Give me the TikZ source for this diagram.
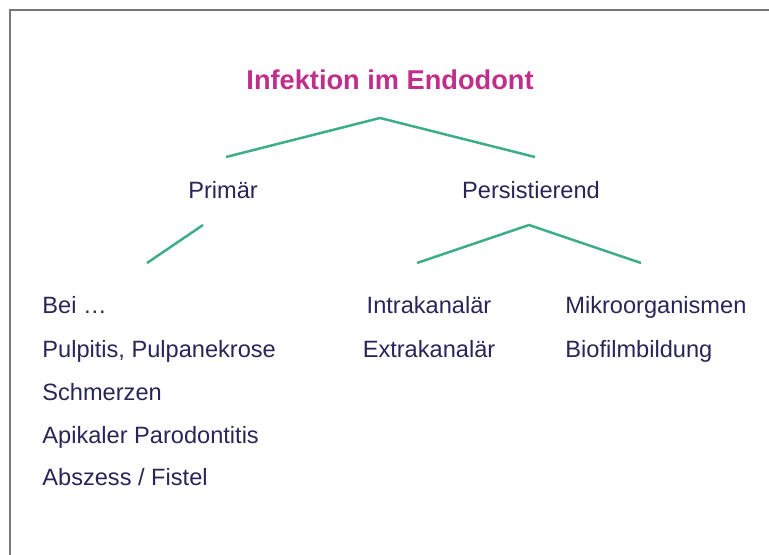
\documentclass[tikz,border=0pt]{standalone}
\usepackage{fontspec}
\setmainfont{Liberation Sans}
\usetikzlibrary{positioning}
\definecolor{titelrot}{RGB}{192,46,138}
\definecolor{tinte}{RGB}{40,38,88}
\definecolor{astgruen}{RGB}{61,174,134}
\definecolor{rahmengrau}{RGB}{120,120,120}

\begin{document}
\begin{tikzpicture}[x=0.5pt,y=-0.5pt,
        titel/.style={font=\fontsize{13.6}{16}\selectfont\bfseries,text=titelrot,inner sep=0pt,anchor=base},
        zweig/.style={font=\fontsize{11.8}{14}\selectfont,text=tinte,inner sep=0pt,anchor=base},
        eintrag/.style={zweig,anchor=base west},
        ast/.style={draw=astgruen,line width=1.25pt},
        rahmen/.style={draw=rahmengrau,line width=1pt}]%
        \useasboundingbox (0,0) rectangle (769,555); %%
        \draw[rahmen] (10,555)--(10,10)--(769,10); %%
        % Titel und erste Ebene
        \node[titel] (titel) at (390,90) {Infektion im Endodont}; %%
        \node[zweig] (prim) at (223,199) {Primär}; %%
        \node[zweig] (pers) at (531,199) {Persistierend}; %%
        % Primaer
        \node[eintrag] (bei) at (42,314) {Bei …}; %%
        \node[eintrag] (pulp) at (42,357) {Pulpitis, Pulpanekrose}; %%
        \node[eintrag] (schm) at (42,400) {Schmerzen}; %%
        \node[eintrag] (apik) at (42,443) {Apikaler Parodontitis}; %%
        \node[eintrag] (absz) at (42,485) {Abszess / Fistel}; %%
        % Persistierend
        \node[zweig] (intra) at (429,313) {Intrakanalär}; %%
        \node[zweig] (extra) at (429,357) {Extrakanalär}; %%
        \node[eintrag] (mikro) at (565,313) {Mikroorganismen}; %%
        \node[eintrag] (bio) at (565,357) {Biofilmbildung}; %%
        % Aeste
        \coordinate (t0) at (380,118); %%
        \coordinate (t1) at (226,157); %%
        \coordinate (t2) at (535,157); %%
        \coordinate (p0) at (203,225); %%
        \coordinate (p1) at (147,263); %%
        \coordinate (s0) at (529,225); %%
        \coordinate (s1) at (417,263); %%
        \coordinate (s2) at (641,263); %%
        \draw[ast] (t1)--(t0)--(t2); %%
        \draw[ast] (p0)--(p1); %%
        \draw[ast] (s1)--(s0)--(s2); %%
\end{tikzpicture}
\end{document}
